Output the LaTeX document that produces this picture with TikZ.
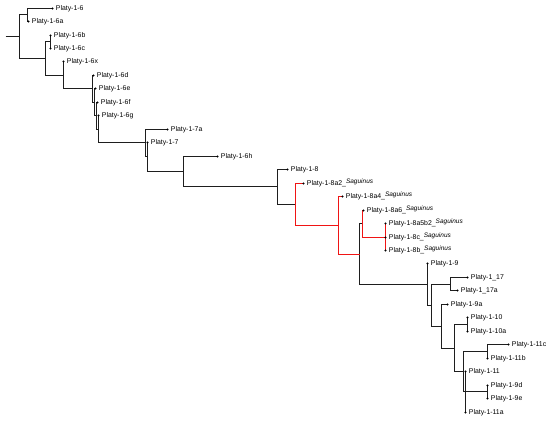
\documentclass[tikz,border=0pt]{standalone}
\usepackage{fontspec}
\setmainfont{Liberation Sans}
\definecolor{sagred}{RGB}{240,20,20}
\definecolor{branchgray}{RGB}{30,30,30}
\newcommand\leaftip[4]{%
  \coordinate (#1) at (#2,#3);
  \node[lbl] (#1lbl) at (#1) {#4};}
\newcommand\sagname{\raisebox{2.4pt}{\fontsize{6.5}{7}\selectfont\itshape Saguinus}}
\begin{document}
\begin{tikzpicture}[x=1pt,y=-1pt,
  br/.style={draw=branchgray,line width=1.1pt},
  rbr/.style={draw=sagred,line width=1.3pt},
  lbl/.style={anchor=base west,inner sep=0pt,xshift=3.2pt,yshift=-2.4pt,
    font=\fontsize{6.9}{8}\selectfont,text=black},
  tipdot/.style={fill=black}]
\useasboundingbox (0,0) rectangle (550,422);
\fill[white] (0,0) rectangle (550,422);

% internal nodes
\coordinate (root) at (5.5,36.5);
\coordinate (A) at (19.5,36.5);
\coordinate (B) at (27.5,14.5);
\coordinate (C) at (45.5,58.5);
\coordinate (D) at (50.5,41.5);
\coordinate (E) at (63.5,75.5);
\coordinate (F) at (92.5,88.5);
\coordinate (G) at (94.5,102.5);
\coordinate (H) at (96.5,115.5);
\coordinate (I) at (98.5,129.5);
\coordinate (J1) at (145.5,142.5);
\coordinate (J2) at (147.5,156.5);
\coordinate (K) at (183.5,171.5);
\coordinate (L) at (277.5,186.5);
\coordinate (sagM) at (295.5,204.5);
\coordinate (sagN) at (338.5,225.5);
\coordinate (P) at (359.5,254.5);
\coordinate (sagQ) at (362.5,223.5);
\coordinate (sagR) at (385.5,237.5);
\coordinate (S) at (427.5,284.5);
\coordinate (T) at (431.5,305.5);
\coordinate (U) at (450.5,284.5);
\coordinate (V) at (441.5,326.5);
\coordinate (X) at (454.5,348.5);
\coordinate (W) at (467.5,324.5);
\coordinate (Y) at (463.5,371.5);
\coordinate (Z) at (487.5,351.5);
\coordinate (Y2) at (465.5,391.5);
\coordinate (AA) at (487.5,391.5);

% leaves
\leaftip{t6}{52.5}{8.5}{Platy-1-6}
\leaftip{t6a}{28.5}{21.5}{Platy-1-6a}
\leaftip{t6b}{50.5}{35.5}{Platy-1-6b}
\leaftip{t6c}{50.5}{48.5}{Platy-1-6c}
\leaftip{t6x}{63.5}{61.5}{Platy-1-6x}
\leaftip{t6d}{93.5}{75.5}{Platy-1-6d}
\leaftip{t6e}{95.5}{88.5}{Platy-1-6e}
\leaftip{t6f}{97.5}{102.5}{Platy-1-6f}
\leaftip{t6g}{98.5}{115.5}{Platy-1-6g}
\leaftip{t7a}{167.5}{129.5}{Platy-1-7a}
\leaftip{t7}{147.5}{142.5}{Platy-1-7}
\leaftip{t6h}{217.5}{156.5}{Platy-1-6h}
\leaftip{t8}{287.5}{169.5}{Platy-1-8}
\leaftip{t8a2}{303.5}{183.5}{Platy-1-8a2\_\sagname}
\leaftip{t8a4}{342.5}{196.5}{Platy-1-8a4\_\sagname}
\leaftip{t8a6}{363.5}{210.5}{Platy-1-8a6\_\sagname}
\leaftip{t8a5b2}{385.5}{223.5}{Platy-1-8a5b2\_\sagname}
\leaftip{t8c}{385.5}{237.5}{Platy-1-8c\_\sagname}
\leaftip{t8b}{385.5}{250.5}{Platy-1-8b\_\sagname}
\leaftip{t9}{427.5}{263.5}{Platy-1-9}
\leaftip{t17}{467.5}{277.5}{Platy-1\_17}
\leaftip{t17a}{457.5}{290.5}{Platy-1\_17a}
\leaftip{t9a}{447.5}{304.5}{Platy-1-9a}
\leaftip{t10}{467.5}{317.5}{Platy-1-10}
\leaftip{t10a}{467.5}{331.5}{Platy-1-10a}
\leaftip{t11c}{508.5}{344.5}{Platy-1-11c}
\leaftip{t11b}{487.5}{358.5}{Platy-1-11b}
\leaftip{t11}{465.5}{371.5}{Platy-1-11}
\leaftip{t9d}{487.5}{385.5}{Platy-1-9d}
\leaftip{t9e}{487.5}{398.5}{Platy-1-9e}
\leaftip{t11a}{465.5}{412.5}{Platy-1-11a}

% black branches
\draw[br] (root) -- (A);
\draw[br] (A) |- (B);  \draw[br] (A) |- (C);
\draw[br] (B) |- (t6); \draw[br] (B) |- (t6a);
\draw[br] (C) |- (D);  \draw[br] (C) |- (E);
\draw[br] (D) |- (t6b); \draw[br] (D) |- (t6c);
\draw[br] (E) |- (t6x); \draw[br] (E) |- (F);
\draw[br] (F) |- (t6d); \draw[br] (F) |- (G);
\draw[br] (G) |- (t6e); \draw[br] (G) |- (H);
\draw[br] (H) |- (t6f); \draw[br] (H) |- (I);
\draw[br] (I) |- (t6g); \draw[br] (I) |- (J1);
\draw[br] (J1) |- (t7a); \draw[br] (J1) |- (J2);
\draw[br] (J2) |- (t7); \draw[br] (J2) |- (K);
\draw[br] (K) |- (t6h); \draw[br] (K) |- (L);
\draw[br] (L) |- (t8); \draw[br] (L) |- (sagM);
\draw[br] (P) |- (sagQ); \draw[br] (P) |- (S);
\draw[br] (S) |- (t9); \draw[br] (S) |- (T);
\draw[br] (T) |- (U); \draw[br] (T) |- (V);
\draw[br] (U) |- (t17); \draw[br] (U) |- (t17a);
\draw[br] (V) |- (t9a); \draw[br] (V) |- (X);
\draw[br] (X) |- (W); \draw[br] (X) |- (Y);
\draw[br] (W) |- (t10); \draw[br] (W) |- (t10a);
\draw[br] (Y) |- (Z); \draw[br] (Y) |- (Y2);
\draw[br] (Z) |- (t11c); \draw[br] (Z) |- (t11b);
\draw[br] (Y2) |- (t11); \draw[br] (Y2) |- (AA); \draw[br] (Y2) |- (t11a);
\draw[br] (AA) |- (t9d); \draw[br] (AA) |- (t9e);

% red branches (Saguinus)
\draw[rbr] (sagQ) |- (t8a6);
\draw[rbr] (sagQ) |- (sagR);
\draw[rbr] (sagR) |- (t8a5b2);
\draw[rbr] (sagR) |- (t8c);
\draw[rbr] (sagR) |- (t8b);
\draw[rbr] (sagN) |- (t8a4);
\draw[rbr] (sagN) |- (P);
\draw[rbr] (sagM) |- (sagN);
\draw[rbr] (sagM) |- (t8a2);

% tip dots
\foreach \t in {t6,t6a,t6b,t6c,t6x,t6d,t6e,t6f,t6g,t7a,t7,t6h,t8,t8a2,t8a4,t8a6,
  t8a5b2,t8c,t8b,t9,t17,t17a,t9a,t10,t10a,t11c,t11b,t11,t9d,t9e,t11a}
  \fill[tipdot] (\t) circle (1.1pt);
\end{tikzpicture}
\end{document}
